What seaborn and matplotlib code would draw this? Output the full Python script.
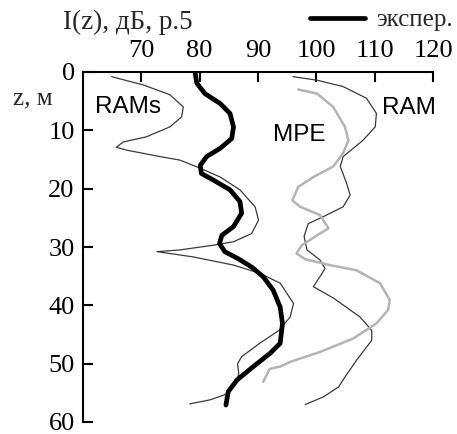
import matplotlib
matplotlib.use("Agg")
import matplotlib.pyplot as plt
import seaborn as sns
import pandas as pd

# ---- data (depth z in m, level I in dB) ----
exp_z = [0, 1.9, 3.7, 5.4, 7.1, 9.4, 11.4, 13.1, 14.5, 16.0, 17.4, 18.5, 20.2, 22.2, 24.2,
         26.5, 28.0, 29.4, 30.8, 32.0, 33.5, 35.1, 37.4, 40.3, 43.1, 46.5, 48.2, 50.5, 52.8,
         54.8, 57.1]
exp_i = [79.2, 79.5, 80.9, 83.5, 85.2, 85.8, 85.5, 83.5, 81.2, 80.1, 80.3, 82.3, 85.2, 86.9, 87.2,
         85.8, 83.8, 83.4, 84.3, 86.6, 89.0, 90.9, 92.6, 93.8, 94.2, 93.8, 92.1, 89.2, 86.4,
         84.9, 84.5]

rams_z = [0.8, 2.2, 3.9, 6.0, 7.7, 9.4, 11.1, 12.0, 12.9, 13.4, 14.5, 15.1, 16.5, 18.0, 20.2,
          23.1, 25.4, 27.7, 29.1, 29.7, 30.5, 30.8, 31.7, 33.1, 34.5, 36.2, 39.7, 42.0, 44.3,
          46.5, 48.8, 50.0, 51.7, 52.8, 55.1, 55.4, 56.2, 56.9]
rams_i = [64.9, 70.3, 74.9, 77.2, 76.9, 74.9, 70.9, 66.9, 65.7, 67.5, 73.2, 76.6, 80.1, 83.5, 86.9,
          89.5, 90.1, 88.9, 85.8, 82.3, 76.6, 72.7, 78.9, 85.8, 90.3, 93.8, 96.1, 95.5, 93.6,
          90.3, 87.2, 86.5, 86.7, 86.4, 84.6, 84.1, 81.8, 78.3]

ram_z = [0.8, 1.4, 2.5, 4.5, 7.1, 9.4, 11.7, 14.5, 16.2, 19.1, 21.1, 23.1, 24.8, 26.0, 28.2,
         30.5, 32.2, 33.7, 35.1, 36.8, 38.8, 42.0, 44.3, 46.0, 49.4, 52.3, 54.0, 55.7, 57.0]
ram_i = [96.0, 100.1, 104.6, 108.6, 110.3, 110.1, 108.0, 104.6, 104.1, 105.2, 105.8, 104.6, 101.2,
         98.6, 97.9, 98.4, 100.6, 101.5, 100.6, 99.5, 103.0, 107.5, 109.5, 109.5, 106.9, 104.9,
         103.8, 101.2, 98.1]

mpe_z = [3.0, 3.7, 6.0, 9.4, 11.7, 13.9, 16.2, 18.0, 19.7, 22.0, 23.1, 24.5, 26.8, 28.0, 29.7,
         31.1, 32.1, 33.1, 34.0, 36.2, 39.1, 40.8, 43.1, 45.7, 48.0, 49.7, 50.5, 50.9, 53.1]
mpe_i = [96.9, 100.1, 102.9, 104.9, 105.5, 104.6, 102.9, 99.5, 96.9, 95.9, 97.2, 100.6, 102.1,
         100.1, 97.5, 96.6, 98.1, 102.3, 106.9, 110.9, 112.6, 112.3, 110.3, 106.3, 100.6, 95.5,
         93.8, 92.0, 90.9]

x_ticks = [70, 80, 90, 100, 110, 120]
y_ticks = [0, 10, 20, 30, 40, 50, 60]
title_text = "I(z), дБ, р.5"
ylabel_text = "z, м"
legend_text = "экспер."
label_names = ["RAMs", "MPE", "RAM"]
label_x = [62.1, 92.6, 111.3]
label_z = [6.0, 10.8, 6.2]

sns.set_theme(style="white")
plt.rcParams["font.family"] = ["Liberation Serif", "DejaVu Serif"]

fig = plt.figure(figsize=(4.57, 4.34), dpi=100)
ax = fig.add_axes([83 / 457, 1 - 422 / 434, 350 / 457, 350 / 434])

def df(z, i):
    return pd.DataFrame({"z": z, "I": i})

sns.lineplot(data=df(rams_z, rams_i), x="I", y="z", sort=False, estimator=None,
             color="#3a3a3a", lw=0.9, ax=ax)
sns.lineplot(data=df(ram_z, ram_i), x="I", y="z", sort=False, estimator=None,
             color="#3a3a3a", lw=0.9, ax=ax)
sns.lineplot(data=df(mpe_z, mpe_i), x="I", y="z", sort=False, estimator=None,
             color="#b4b4b4", lw=1.8, ax=ax)
sns.lineplot(data=df(exp_z, exp_i), x="I", y="z", sort=False, estimator=None,
             color="black", lw=3.4, ax=ax, label=legend_text)
for ln in ax.get_lines():
    ln.set_solid_joinstyle("round")
    ln.set_solid_capstyle("round")

ax.set_xlim(60, 120)
ax.set_ylim(60, 0)
ax.set_xticks(x_ticks)
ax.set_yticks(y_ticks)
ax.xaxis.tick_top()
ax.set_xlabel("")
ax.set_ylabel("")
for s in ["right", "bottom"]:
    ax.spines[s].set_visible(False)
for s in ["left", "top"]:
    ax.spines[s].set_color("black")
    ax.spines[s].set_linewidth(1.5)
ax.tick_params(axis="both", direction="in", length=7, width=1.5, colors="black",
               labelsize=19, labelcolor="black")
ax.tick_params(axis="x", pad=7, top=True, bottom=False)
ax.tick_params(axis="y", pad=6, left=True)
ax.grid(False)

for name, xv, yv in zip(label_names, label_x, label_z):
    ax.text(xv, yv, name, fontsize=17.5, family=["Liberation Sans", "DejaVu Sans"],
            va="center", ha="left", color="black", clip_on=False)

fig.text(63 / 457, 1 - 22 / 434, title_text, fontsize=19.5, va="center", ha="left")
fig.text(13 / 457, 1 - 98 / 434, ylabel_text, fontsize=18, va="center", ha="left")

handles, labs = ax.get_legend_handles_labels()
ax.legend(handles, labs, loc="center right", bbox_to_anchor=(453 / 457, 1 - 20 / 434),
          bbox_transform=fig.transFigure, frameon=False, fontsize=18, borderpad=0,
          borderaxespad=0, handlelength=2.2, handletextpad=0.45)

fig.savefig("out.png", dpi=100)
